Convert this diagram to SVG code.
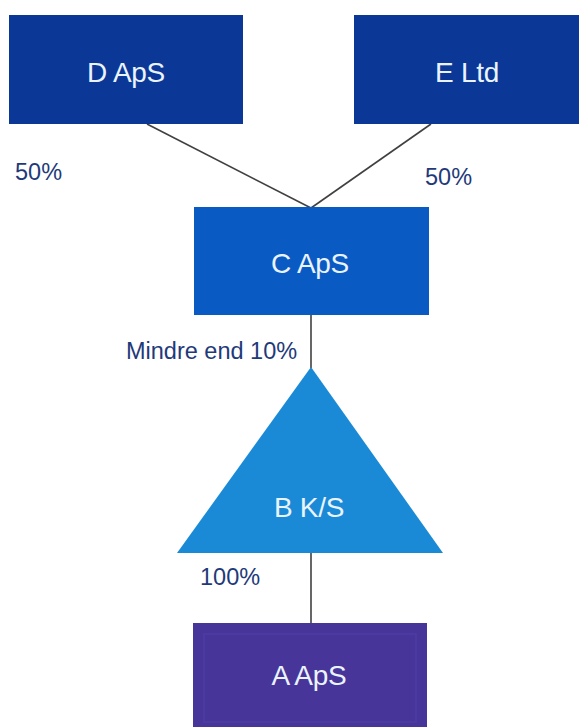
<svg xmlns="http://www.w3.org/2000/svg" width="579" height="727" viewBox="0 0 579 727">
<style>
.box{stroke:none}
.t{font-family:"Liberation Sans",Arial,sans-serif;font-size:28px;fill:#eaf4ff;text-anchor:middle;letter-spacing:-0.3px}
.lbl{font-family:"Liberation Sans",Arial,sans-serif;font-size:23.5px;fill:#1f3a7a}
.conn{stroke:#404040;stroke-width:1.6;fill:none}
</style>
<rect width="579" height="727" fill="#ffffff"/>
<g id="connectors">
<line class="conn" x1="147" y1="124" x2="311" y2="208"/>
<line class="conn" x1="431" y1="124" x2="311" y2="208"/>
<line class="conn" x1="311" y1="315" x2="311" y2="368"/>
<line class="conn" x1="311" y1="552" x2="311" y2="623"/>
</g>
<g id="node-D">
<rect class="box" x="9" y="15" width="234" height="109" fill="#0b3896"/>
<text class="t" x="126" y="82">D ApS</text>
</g>
<g id="node-E">
<rect class="box" x="354" y="15" width="225" height="109" fill="#0b3896"/>
<text class="t" x="467" y="82">E Ltd</text>
</g>
<g id="node-C">
<rect class="box" x="194" y="207" width="235" height="108" fill="#0a5ac4"/>
<text class="t" x="310" y="273">C ApS</text>
</g>
<g id="node-B">
<polygon class="box" points="311,367 443,553 177,553" fill="#1a8ad6"/>
<text class="t" x="309" y="517">B K/S</text>
</g>
<g id="node-A">
<rect class="box" x="193" y="623" width="234" height="104" fill="#47359a"/>
<rect x="204" y="634" width="212" height="88" fill="none" stroke="#4a3aa2" stroke-width="2"/>
<text class="t" x="309" y="685">A ApS</text>
</g>
<g id="labels">
<text class="lbl" x="15" y="180">50%</text>
<text class="lbl" x="425" y="185">50%</text>
<text class="lbl" x="126" y="359">Mindre end 10%</text>
<text class="lbl" x="200" y="585">100%</text>
</g>
</svg>
